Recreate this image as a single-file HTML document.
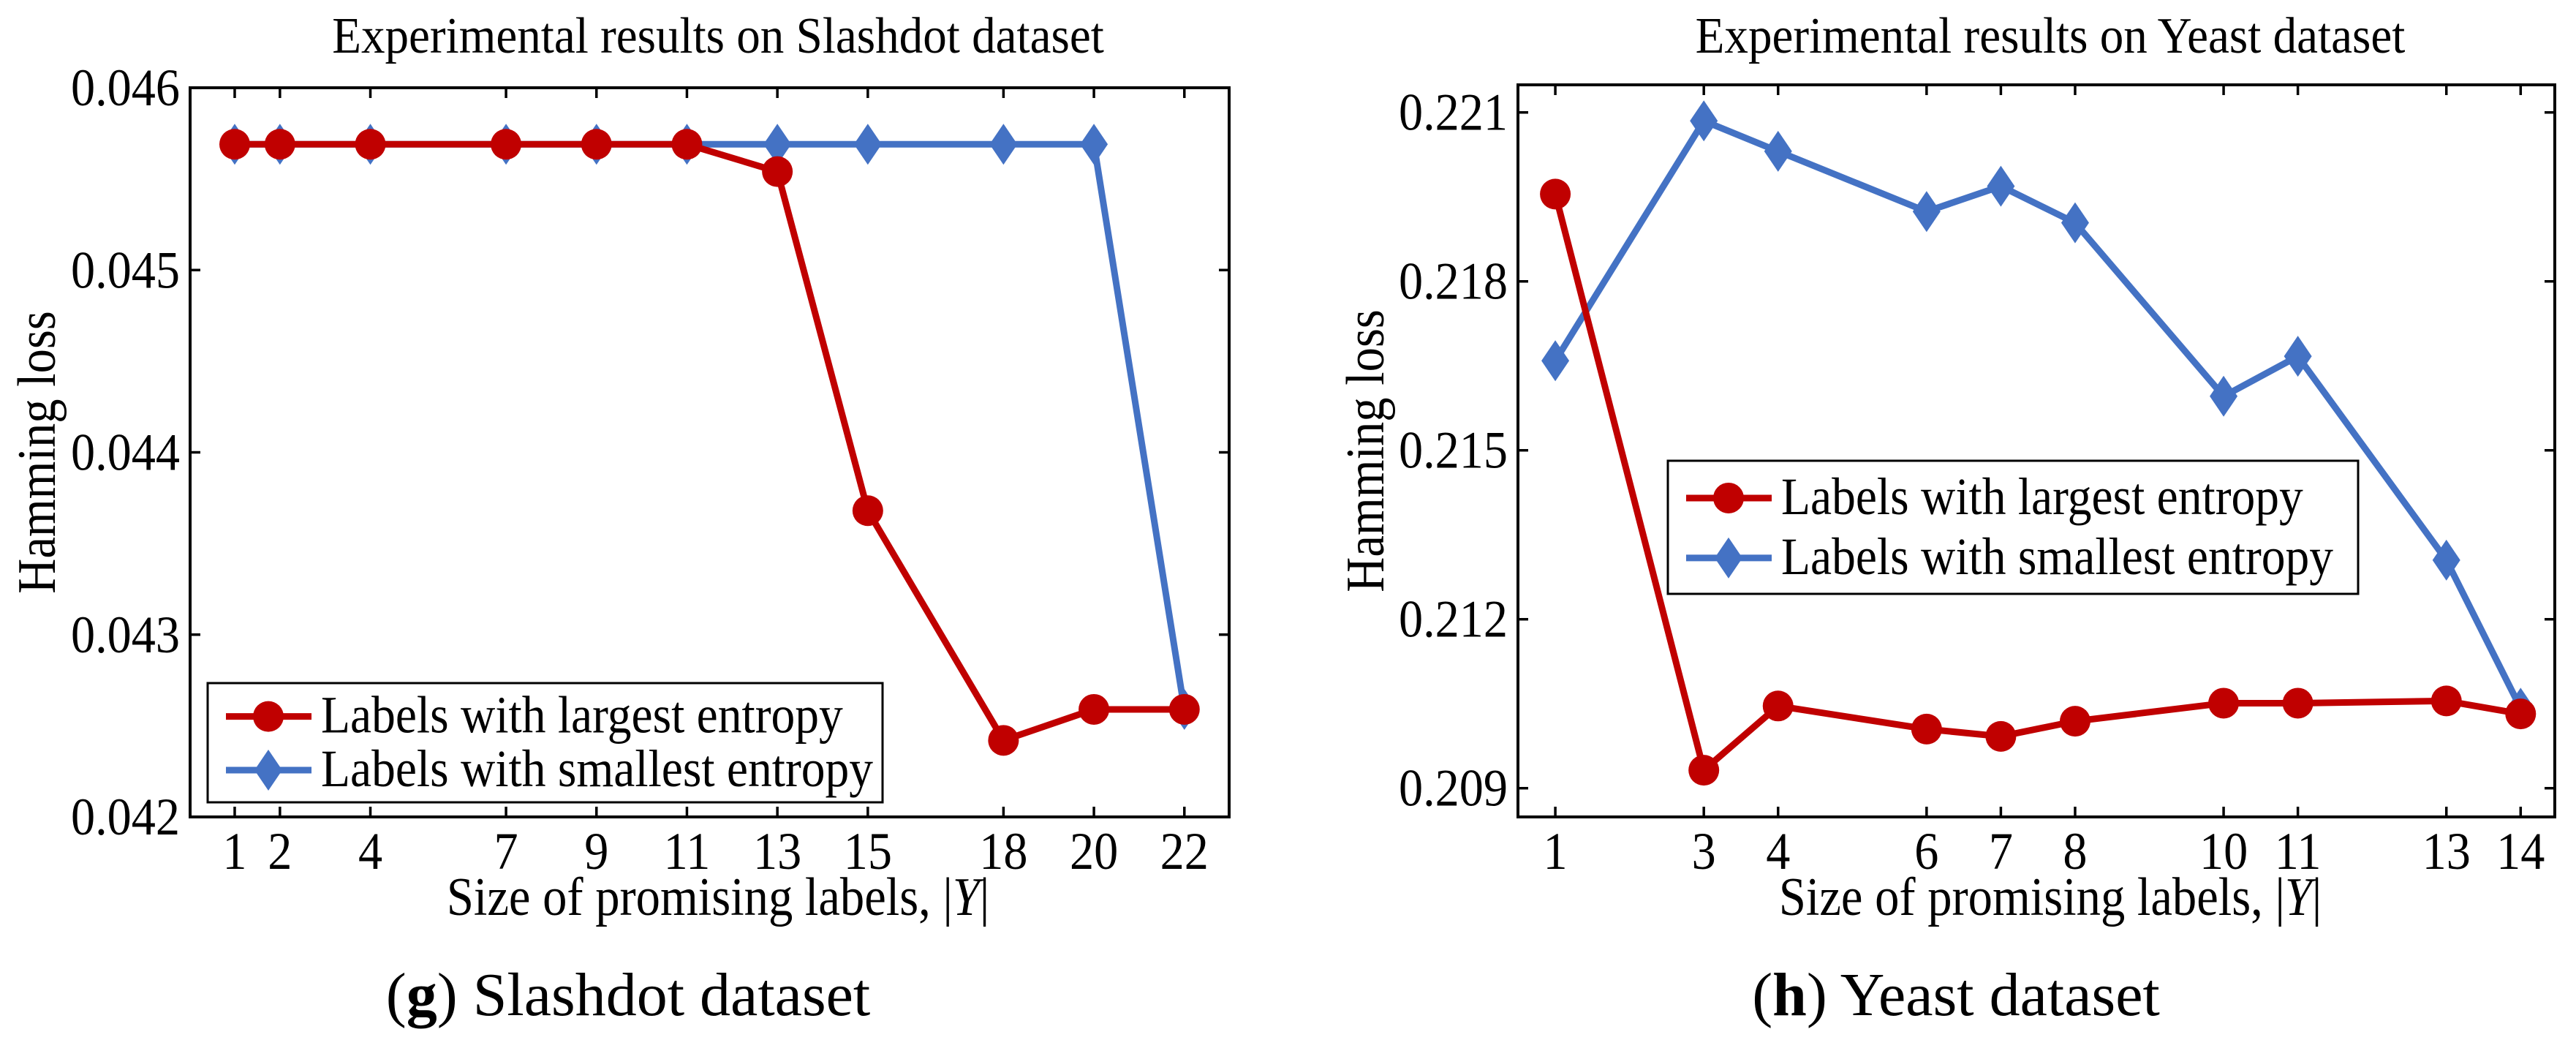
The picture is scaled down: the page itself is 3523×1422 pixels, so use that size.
<!DOCTYPE html>
<html><head><meta charset="utf-8"><style>
html,body{margin:0;padding:0;background:#fff}
svg{display:block}
text{font-family:"Liberation Serif",serif;fill:#000}
</style></head><body>
<svg id="fig" width="3523" height="1422" viewBox="0 0 3523 1422">
<g id="left"></g>
<g id="right"></g>
</svg>
<script>
// Slashdot data
const sdX = [1,2,4,7,9,11,13,15,18,20,22];
const sdLargest = [0.04569,0.04569,0.04569,0.04569,0.04569,0.04569,0.04554,0.04368,0.04242,0.04259,0.04259];
const sdSmallest = [0.04569,0.04569,0.04569,0.04569,0.04569,0.04569,0.04569,0.04569,0.04569,0.04569,0.04259];
const sdYTicks = [0.042,0.043,0.044,0.045,0.046];
const sdYTickLabels = ["0.042","0.043","0.044","0.045","0.046"];
// Yeast data
const yX = [1,3,4,6,7,8,10,11,13,14];
const yLargest = [0.21955,0.20932,0.21046,0.21005,0.20992,0.21019,0.21051,0.21051,0.21055,0.21032];
const ySmallest = [0.21659,0.22085,0.22031,0.21924,0.21969,0.21904,0.21596,0.21667,0.21305,0.21042];
const yYTicks = [0.209,0.212,0.215,0.218,0.221];
const yYTickLabels = ["0.209","0.212","0.215","0.218","0.221"];

const NS="http://www.w3.org/2000/svg";
function mk(parent,tag,attrs){const e=document.createElementNS(NS,tag);for(const k in attrs)e.setAttribute(k,attrs[k]);parent.appendChild(e);return e;}
function txt(parent,x,y,fs,sx,anchor,rot){
  const tr=`translate(${x},${y})`+(rot?` rotate(${rot})`:'')+` scale(${sx},1)`;
  return mk(parent,'text',{x:0,y:0,'font-size':fs,'text-anchor':anchor,transform:tr});
}
const RED="#c00000", BLUE="#4472c4";

function diamond(g,cx,cy){
  return mk(g,'polygon',{points:`${cx},${cy-28} ${cx+19},${cy} ${cx},${cy+28} ${cx-19},${cy}`,fill:BLUE});
}

function chart(g,o){
  const sx=v=>o.L+(v-o.x0)/(o.x1-o.x0)*(o.R-o.L);
  const sy=v=>o.B-(v-o.y0)/(o.y1-o.y0)*(o.B-o.T);
  let t=txt(g,o.titleX,72,70,0.93,'middle');t.textContent=o.title;
  
  
  let r=mk(g,'rect',{x:o.L,y:o.T,width:o.R-o.L,height:o.B-o.T,fill:'none',stroke:'#000','stroke-width':4});
  
  
  o.yTicks.forEach((v,i)=>{
    const y=sy(v);
    mk(g,'line',{x1:o.L,x2:o.L+14,y1:y,y2:y,stroke:'#000','stroke-width':3.5});
    mk(g,'line',{x1:o.R,x2:o.R-14,y1:y,y2:y,stroke:'#000','stroke-width':3.5});
    const tx=txt(g,o.L-14,y+24,72,0.92,'end');
    tx.textContent=o.yLabels[i];
    
    
  });
  o.xs.forEach(v=>{
    const x=sx(v);
    mk(g,'line',{x1:x,x2:x,y1:o.B,y2:o.B-14,stroke:'#000','stroke-width':3.5});
    mk(g,'line',{x1:x,x2:x,y1:o.T,y2:o.T+14,stroke:'#000','stroke-width':3.5});
    const tx=txt(g,x,1188,72,0.92,'middle');
    tx.textContent=String(v);
    
    
  });
  let xt=txt(g,o.titleX,1251,74,0.9,'middle');
  xt.innerHTML='Size of promising labels, |<tspan font-style="italic">Y</tspan>|';
  
  
  let yt=txt(g,o.yTitleX,(o.T+o.B)/2,74,0.9,'middle',-90);
  yt.textContent='Hamming loss';
  
  
  const lb=mk(g,'polyline',{points:o.xs.map((v,i)=>sx(v)+','+sy(o.small[i])).join(' '),fill:'none',stroke:BLUE,'stroke-width':9,'stroke-linejoin':'round'});
  
  
  const lr=mk(g,'polyline',{points:o.xs.map((v,i)=>sx(v)+','+sy(o.large[i])).join(' '),fill:'none',stroke:RED,'stroke-width':9,'stroke-linejoin':'round'});
  
  
  o.xs.forEach((v,i)=>{
    const d=diamond(g,sx(v),sy(o.small[i]));
    
    
  });
  o.xs.forEach((v,i)=>{
    const c=mk(g,'circle',{cx:sx(v),cy:sy(o.large[i]),r:21,fill:RED});
    
    
  });
  const lg=mk(g,'g',{});
  
  
  mk(lg,'rect',{x:o.lgX,y:o.lgY,width:o.lgW,height:o.lgH,fill:'#fff',stroke:'#000','stroke-width':3});
  const e1=o.lgY+o.lgH*0.28, e2=o.lgY+o.lgH*0.73;
  mk(lg,'line',{x1:o.lgX+25,x2:o.lgX+142,y1:e1,y2:e1,stroke:RED,'stroke-width':9});
  mk(lg,'circle',{cx:o.lgX+83,cy:e1,r:21,fill:RED});
  mk(lg,'line',{x1:o.lgX+25,x2:o.lgX+142,y1:e2,y2:e2,stroke:BLUE,'stroke-width':9});
  diamond(lg,o.lgX+83,e2);
  let a=txt(lg,o.lgX+155,e1+22,72,0.91,'start');a.textContent='Labels with largest entropy';
  
  
  let b=txt(lg,o.lgX+155,e2+22,72,0.91,'start');b.textContent='Labels with smallest entropy';
  
  
  let cp=txt(g,o.capX,1388,84,1,'middle');
  cp.innerHTML='(<tspan font-weight="bold">'+o.capLetter+'</tspan>) '+o.capText;
  
  
}

chart(document.getElementById('left'),{
  L:260,R:1681,T:120,B:1117,x0:0.014,x1:22.99,y0:0.042,y1:0.046,
  xs:sdX,large:sdLargest,small:sdSmallest,yTicks:sdYTicks,yLabels:sdYTickLabels,
  title:'Experimental results on Slashdot dataset',titleX:982,yTitleX:75,
  lgX:284,lgY:934,lgW:923,lgH:163,capX:859,capLetter:'g',capText:'Slashdot dataset'
});
chart(document.getElementById('right'),{
  L:2076,R:3494,T:116,B:1117,x0:0.497,x1:14.46,y0:0.20849,y1:0.22149,
  xs:yX,large:yLargest,small:ySmallest,yTicks:yYTicks,yLabels:yYTickLabels,
  title:'Experimental results on Yeast dataset',titleX:2804,yTitleX:1892,
  lgX:2281,lgY:630,lgW:944,lgH:182,capX:2675,capLetter:'h',capText:'Yeast dataset'
});
</script>
</body></html>
